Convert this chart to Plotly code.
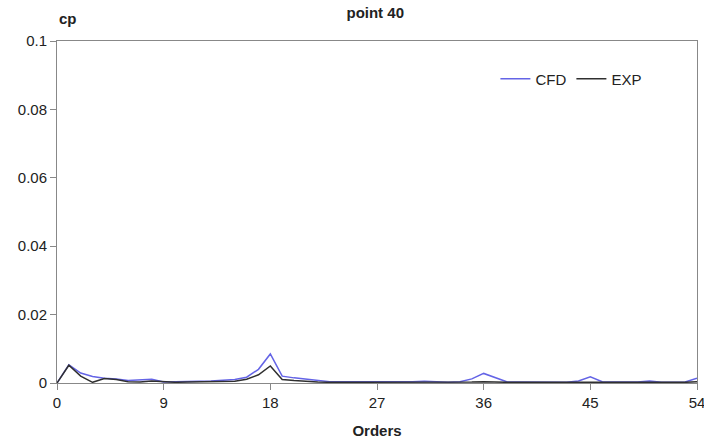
import plotly.graph_objects as go

orders = list(range(0, 55))
cfd = [0.0, 0.0053, 0.0029, 0.0019, 0.0014, 0.0012, 0.0007, 0.0008, 0.0011, 0.0003,
       0.0003, 0.0004, 0.0005, 0.0006, 0.0007, 0.0010, 0.0017, 0.0040, 0.0085, 0.0020,
       0.0015, 0.0011, 0.0006, 0.0004, 0.0004, 0.0004, 0.0003, 0.0004, 0.0003, 0.0002,
       0.0004, 0.0005, 0.0003, 0.0002, 0.0004, 0.0012, 0.0028, 0.0016, 0.0003, 0.0003,
       0.0003, 0.0003, 0.0002, 0.0002, 0.0006, 0.0018, 0.0004, 0.0003, 0.0002, 0.0003,
       0.0006, 0.0002, 0.0002, 0.0003, 0.0014]
exp = [0.0, 0.0052, 0.0020, 0.0002, 0.0013, 0.0010, 0.0004, 0.0003, 0.0006, 0.0003,
       0.0002, 0.0003, 0.0003, 0.0003, 0.0003, 0.0005, 0.0011, 0.0024, 0.0050, 0.0010,
       0.0007, 0.0004, 0.0003, 0.0002, 0.0002, 0.0003, 0.0002, 0.0003, 0.0002, 0.0001,
       0.0002, 0.0002, 0.0002, 0.0002, 0.0002, 0.0003, 0.0004, 0.0002, 0.0002, 0.0002,
       0.0002, 0.0002, 0.0001, 0.0002, 0.0002, 0.0003, 0.0002, 0.0002, 0.0001, 0.0002,
       0.0002, 0.0001, 0.0002, 0.0002, 0.0004]
x_ticks = [0, 9, 18, 27, 36, 45, 54]
y_ticks = [0, 0.02, 0.04, 0.06, 0.08, 0.1]
y_tick_labels = ["0", "0.02", "0.04", "0.06", "0.08", "0.1"]

font = "Liberation Sans, Arial, sans-serif"
fs = 15

fig = go.Figure()
fig.add_trace(go.Scatter(x=orders, y=cfd, mode="lines", name="CFD",
                         line=dict(color="#6464e6", width=1.5)))
fig.add_trace(go.Scatter(x=orders, y=exp, mode="lines", name="EXP",
                         line=dict(color="#303030", width=1.5)))

fig.update_layout(
    width=704, height=439,
    margin=dict(l=57, r=7, t=41, b=56, autoexpand=False),
    paper_bgcolor="white", plot_bgcolor="white",
    font=dict(family=font, size=fs, color="#222"),
    title=dict(text="<b>point 40</b>", x=0.533, xanchor="center", y=0.970, yanchor="middle",
               font=dict(size=fs, family=font, color="#222")),
    showlegend=True,
    legend=dict(orientation="h", x=0.685, y=0.889, xanchor="left", yanchor="middle",
                bgcolor="rgba(0,0,0,0)", font=dict(size=fs, family=font, color="#222"),
                itemwidth=30, tracegroupgap=0),
    xaxis=dict(range=[0, 54], tickvals=x_ticks, ticks="outside", ticklen=6,
               tickcolor="#888", showline=True, linecolor="#888", linewidth=1,
               mirror=True, showgrid=False, zeroline=False, automargin=False,
               ticklabeloverflow="allow",
               tickfont=dict(size=fs, family=font, color="#222"),
               title=dict(text="<b>Orders</b>", standoff=16,
                          font=dict(size=fs, family=font, color="#222"))),
    yaxis=dict(range=[0, 0.1], tickvals=y_ticks, ticktext=y_tick_labels,
               ticks="outside", ticklen=6, tickcolor="#888", showline=True,
               linecolor="#888", linewidth=1, mirror=True, showgrid=False,
               automargin=False,
               zeroline=False, tickfont=dict(size=fs, family=font, color="#222")),
    annotations=[dict(text="<b>cp</b>", xref="paper", yref="paper", x=0.0, y=1.035,
                      xanchor="left", yanchor="bottom", showarrow=False,
                      font=dict(size=fs, family=font, color="#222"))],
)

fig.write_html("out.html")
